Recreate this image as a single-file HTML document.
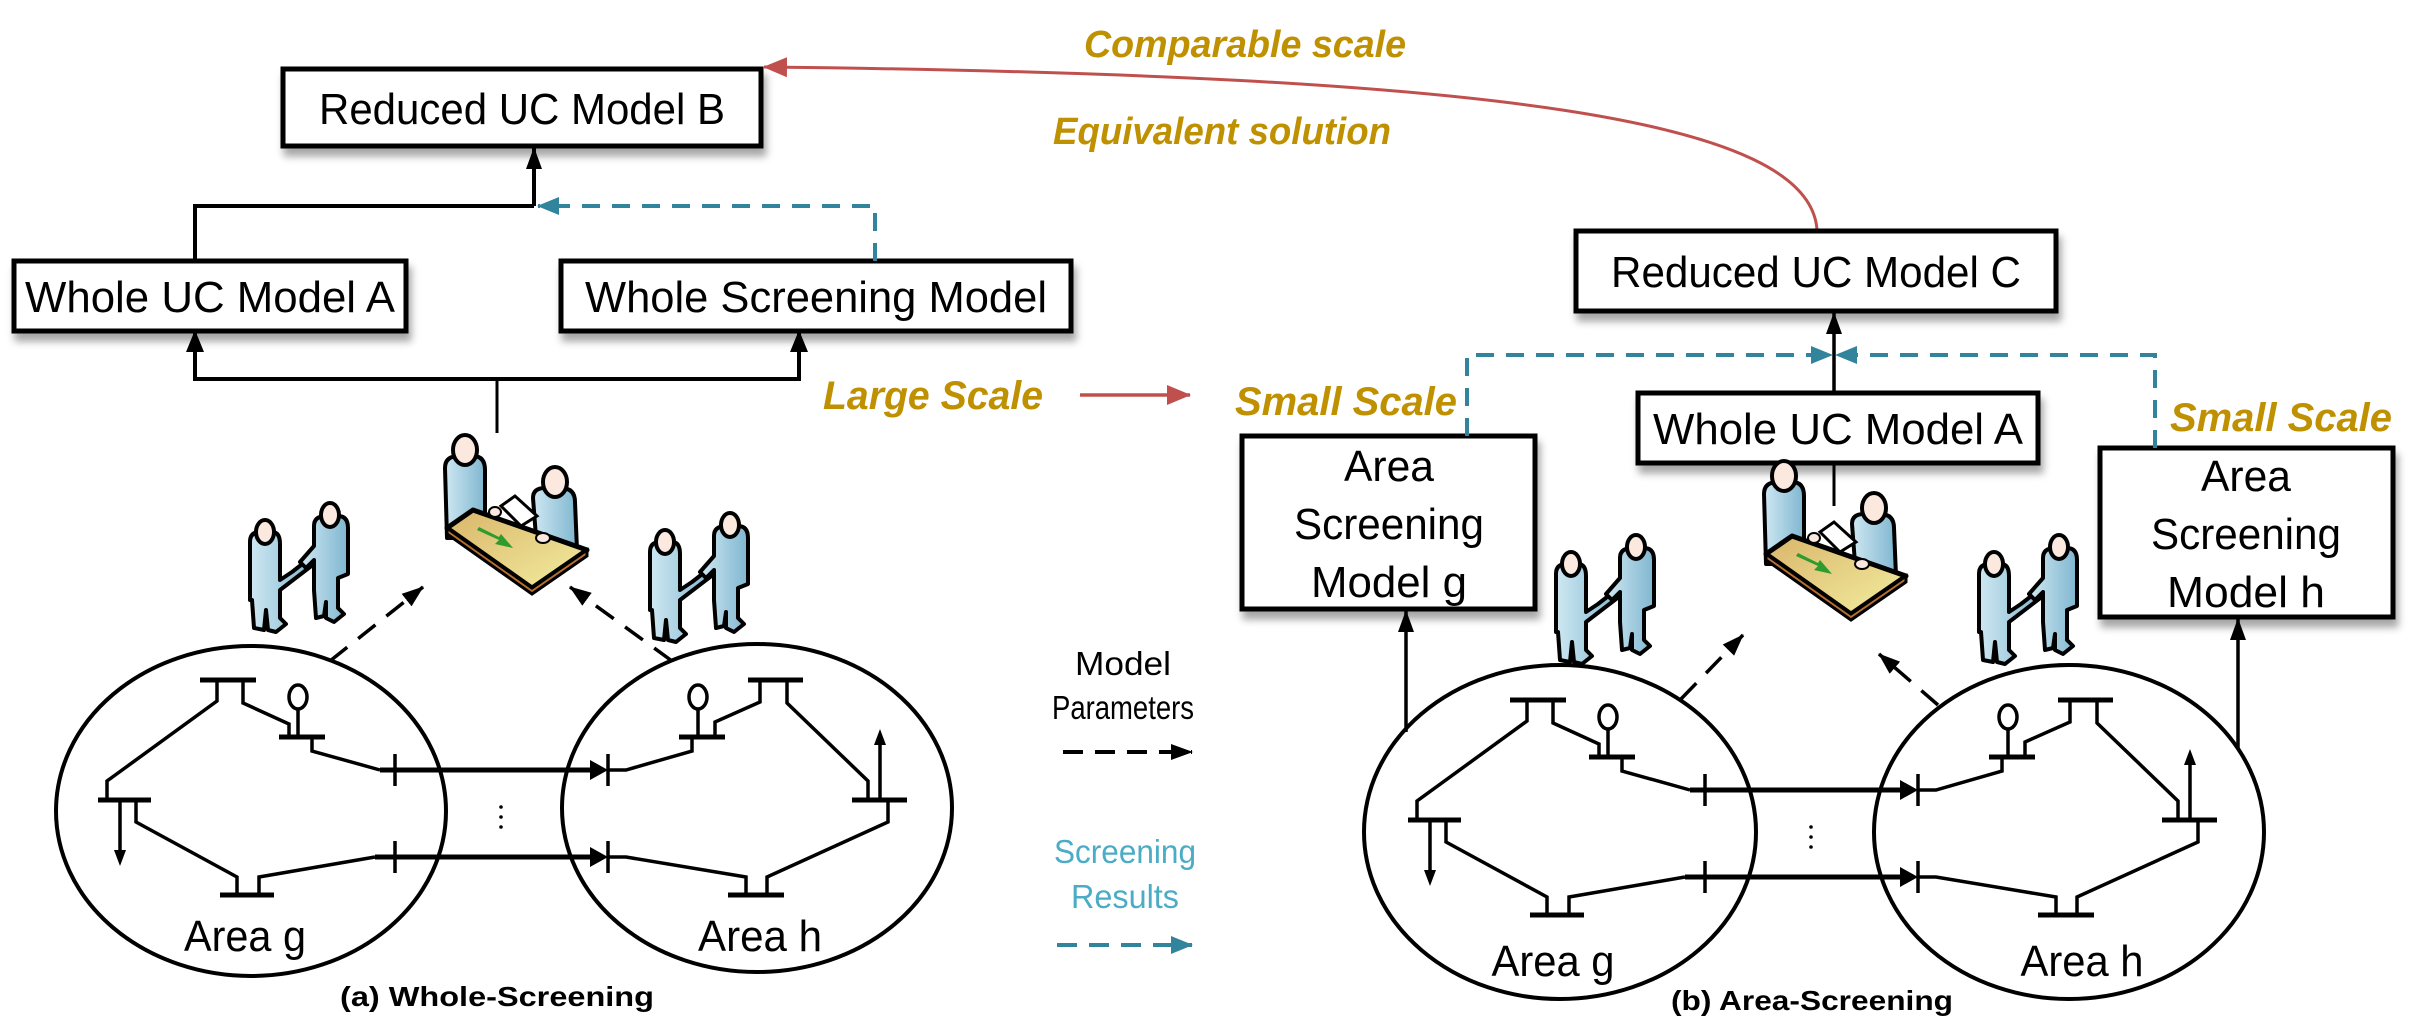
<!DOCTYPE html>
<html><head><meta charset="utf-8"><style>
html,body{margin:0;padding:0;background:#fff;}
svg{display:block;}
text{font-family:"Liberation Sans",sans-serif;}
</style></head><body>
<svg width="2417" height="1028" viewBox="0 0 2417 1028" xmlns="http://www.w3.org/2000/svg">
<defs>
<filter id="sh" x="-10%" y="-10%" width="120%" height="140%"><feDropShadow dx="3" dy="8" stdDeviation="4" flood-color="#000" flood-opacity="0.35"/></filter>
<marker id="abig" markerWidth="22" markerHeight="16" refX="21" refY="8" orient="auto" markerUnits="userSpaceOnUse" viewBox="0 0 22 16"><path d="M0,0 L22,8 L0,16 Z" fill="#000"/></marker>
<marker id="at" markerWidth="22" markerHeight="18" refX="21" refY="9" orient="auto" markerUnits="userSpaceOnUse" viewBox="0 0 22 18"><path d="M0,0 L22,9 L0,18 Z" fill="#31849b"/></marker>
<marker id="ar" markerWidth="24" markerHeight="20" refX="23" refY="10" orient="auto" markerUnits="userSpaceOnUse" viewBox="0 0 24 20"><path d="M0,0 L24,10 L0,20 Z" fill="#c0504d"/></marker>
<linearGradient id="tbl" x1="0" y1="0" x2="1" y2="1"><stop offset="0" stop-color="#d9b56a"/><stop offset="1" stop-color="#f3eea0"/></linearGradient>
<linearGradient id="bl" x1="0" y1="0" x2="1" y2="0"><stop offset="0" stop-color="#cfe8f2"/><stop offset="1" stop-color="#7fb6d0"/></linearGradient>
<g id="pair">
  <path d="M10,52 Q10,42 20,42 L32,42 Q40,42 40,54 L40,90 L52,82 L70,68 L74,74 L40,100 L40,128 L46,134 L36,142 L28,140 L26,120 L24,140 L14,138 L12,110 L10,110 Z" fill="url(#bl)" stroke="#000" stroke-width="4" stroke-linejoin="round"/>
  <ellipse cx="25" cy="42" rx="9" ry="12" fill="#fbe9df" stroke="#000" stroke-width="4"/>
  <path d="M74,36 Q74,26 86,26 L98,26 Q108,26 108,38 L108,84 L98,88 L98,118 L104,124 L94,132 L86,128 L86,112 L84,126 L76,128 L74,100 L74,70 L66,78 L60,72 L74,56 Z" fill="url(#bl)" stroke="#000" stroke-width="4" stroke-linejoin="round"/>
  <ellipse cx="90" cy="25" rx="9" ry="12" fill="#fbe9df" stroke="#000" stroke-width="4"/>
</g>
<g id="meet">
  <path d="M8,30 Q8,18 22,18 L36,18 Q48,18 48,32 L48,100 L10,100 Z" fill="url(#bl)" stroke="#000" stroke-width="4" stroke-linejoin="round"/>
  <ellipse cx="28" cy="12" rx="12" ry="15" fill="#fbe9df" stroke="#000" stroke-width="4"/>
  <path d="M96,60 Q96,50 108,50 L124,50 Q138,50 138,64 L140,112 L100,112 Z" fill="url(#bl)" stroke="#000" stroke-width="4" stroke-linejoin="round"/>
  <ellipse cx="118" cy="44" rx="12" ry="15" fill="#fbe9df" stroke="#000" stroke-width="4"/>
  <path d="M10,90 L36,72 L150,112 L95,150 Z" fill="url(#tbl)" stroke="#000" stroke-width="5" stroke-linejoin="round"/>
  <path d="M10,90 L10,96 L95,156 L150,118 L150,112 L95,150 Z" fill="#b9702f" stroke="#000" stroke-width="3"/>
  <path d="M64,68 L78,58 L100,78 L84,88 Z" fill="#fff" stroke="#000" stroke-width="3"/>
  <path d="M40,92 L62,102 L58,106 L76,110 L64,96 L62,99 L42,89 Z" fill="#2e9b2e"/>
  <ellipse cx="58" cy="74" rx="6" ry="5" fill="#fbe9df" stroke="#000" stroke-width="2"/>
  <ellipse cx="106" cy="100" rx="7" ry="5" fill="#fbe9df" stroke="#000" stroke-width="2"/>
</g>
<g id="net" fill="none" stroke="#000" stroke-width="3.5">
  <line x1="200" y1="680" x2="256" y2="680" stroke-width="5"/>
  <polyline points="217,680 217,701 107,781 107,800"/>
  <polyline points="243,680 243,703 289,724 289,737"/>
  <line x1="279" y1="737" x2="325" y2="737" stroke-width="5"/>
  <ellipse cx="298" cy="697" rx="9" ry="12"/>
  <line x1="298" y1="709" x2="298" y2="737"/>
  <polyline points="312,737 312,751 380,770"/>
  <line x1="380" y1="770" x2="596" y2="770" stroke-width="5"/>
  <path d="M590,760 L608,770 L590,780 Z" fill="#000" stroke="none"/>
  <line x1="395" y1="754" x2="395" y2="786"/>
  <line x1="608" y1="754" x2="608" y2="786"/>
  <line x1="98" y1="800" x2="151" y2="800" stroke-width="5"/>
  <line x1="120" y1="800" x2="120" y2="855"/>
  <path d="M114,850 L120,866 L126,850 Z" fill="#000" stroke="none"/>
  <polyline points="136,800 136,822 237,877 237,895"/>
  <line x1="220" y1="895" x2="274" y2="895" stroke-width="5"/>
  <polyline points="259,895 259,877 375,857"/>
  <line x1="375" y1="857" x2="596" y2="857" stroke-width="5"/>
  <path d="M590,847 L608,857 L590,867 Z" fill="#000" stroke="none"/>
  <line x1="395" y1="841" x2="395" y2="873"/>
  <line x1="608" y1="841" x2="608" y2="873"/>
  <polyline points="608,770 626,770 692,751 692,737"/>
  <line x1="679" y1="737" x2="725" y2="737" stroke-width="5"/>
  <ellipse cx="698" cy="697" rx="9" ry="12"/>
  <line x1="698" y1="709" x2="698" y2="737"/>
  <polyline points="715,737 715,722 760,702 760,680"/>
  <line x1="748" y1="680" x2="803" y2="680" stroke-width="5"/>
  <polyline points="787,680 787,703 868,781 868,800"/>
  <line x1="852" y1="800" x2="907" y2="800" stroke-width="5"/>
  <line x1="880" y1="800" x2="880" y2="740"/>
  <path d="M874,745 L880,729 L886,745 Z" fill="#000" stroke="none"/>
  <polyline points="888,800 888,822 767,877 767,895"/>
  <line x1="728" y1="895" x2="784" y2="895" stroke-width="5"/>
  <polyline points="746,895 746,877 626,857 608,857"/>
  <circle cx="501" cy="807" r="1.8" fill="#000" stroke="none"/>
  <circle cx="501" cy="817" r="1.8" fill="#000" stroke="none"/>
  <circle cx="501" cy="827" r="1.8" fill="#000" stroke="none"/>
</g>
</defs>

<g filter="url(#sh)">
<rect x="283" y="69" width="478" height="77" fill="#fff" stroke="#000" stroke-width="5"/>
<rect x="14" y="261" width="392" height="70" fill="#fff" stroke="#000" stroke-width="5"/>
<rect x="561" y="261" width="510" height="70" fill="#fff" stroke="#000" stroke-width="5"/>
</g>
<text x="522" y="124" font-size="44" text-anchor="middle" textLength="406" lengthAdjust="spacingAndGlyphs">Reduced UC Model B</text>
<text x="210" y="312" font-size="44" text-anchor="middle" textLength="370" lengthAdjust="spacingAndGlyphs">Whole UC Model A</text>
<text x="816" y="312" font-size="44" text-anchor="middle" textLength="462" lengthAdjust="spacingAndGlyphs">Whole Screening Model</text>

<polyline points="195,261 195,206 534,206" fill="none" stroke="#000" stroke-width="4"/>
<line x1="534" y1="206" x2="534" y2="148" stroke="#000" stroke-width="4" marker-end="url(#abig)"/>
<polyline points="875,261 875,206 538,206" fill="none" stroke="#31849b" stroke-width="4" stroke-dasharray="18,12" marker-end="url(#at)"/>
<polyline points="195,331 195,379 799,379 799,333" fill="none" stroke="#000" stroke-width="4"/>
<path d="M186,352 L195,330 L204,352 Z" fill="#000"/>
<path d="M790,352 L799,330 L808,352 Z" fill="#000"/>
<line x1="497" y1="379" x2="497" y2="433" stroke="#000" stroke-width="3"/>

<use href="#meet" x="437" y="438"/>
<use href="#pair" x="240" y="490"/>
<use href="#pair" x="640" y="500"/>

<ellipse cx="251" cy="811" rx="195" ry="165" fill="none" stroke="#000" stroke-width="4"/>
<ellipse cx="757" cy="808" rx="195" ry="164" fill="none" stroke="#000" stroke-width="4"/>
<use href="#net"/>
<line x1="330" y1="661" x2="423" y2="587" stroke="#000" stroke-width="3.5" stroke-dasharray="22,14" marker-end="url(#abig)"/>
<line x1="672" y1="661" x2="570" y2="587" stroke="#000" stroke-width="3.5" stroke-dasharray="22,14" marker-end="url(#abig)"/>
<text x="245" y="951" font-size="44" text-anchor="middle" textLength="122" lengthAdjust="spacingAndGlyphs">Area g</text>
<text x="760" y="951" font-size="44" text-anchor="middle" textLength="124" lengthAdjust="spacingAndGlyphs">Area h</text>
<text x="497" y="1006" font-size="28" font-weight="bold" text-anchor="middle" textLength="314" lengthAdjust="spacingAndGlyphs">(a) Whole-Screening</text>

<text x="1123" y="675" font-size="33" text-anchor="middle" textLength="96" lengthAdjust="spacingAndGlyphs">Model</text>
<text x="1123" y="719" font-size="33" text-anchor="middle" textLength="142" lengthAdjust="spacingAndGlyphs">Parameters</text>
<line x1="1063" y1="752" x2="1192" y2="752" stroke="#000" stroke-width="4" stroke-dasharray="20,12" marker-end="url(#abig)"/>
<text x="1125" y="863" font-size="33" fill="#4bacc6" text-anchor="middle" textLength="142" lengthAdjust="spacingAndGlyphs">Screening</text>
<text x="1125" y="908" font-size="33" fill="#4bacc6" text-anchor="middle" textLength="108" lengthAdjust="spacingAndGlyphs">Results</text>
<line x1="1057" y1="945" x2="1192" y2="945" stroke="#31849b" stroke-width="4" stroke-dasharray="20,12" marker-end="url(#at)"/>

<text x="1245" y="57" font-size="38" font-weight="bold" font-style="italic" fill="#bf9000" text-anchor="middle" textLength="322" lengthAdjust="spacingAndGlyphs">Comparable scale</text>
<text x="1222" y="144" font-size="38" font-weight="bold" font-style="italic" fill="#bf9000" text-anchor="middle" textLength="338" lengthAdjust="spacingAndGlyphs">Equivalent  solution</text>
<path d="M1817,230 C1810,120 1500,75 764,67" fill="none" stroke="#c0504d" stroke-width="3" marker-end="url(#ar)"/>
<text x="933" y="409" font-size="40" font-weight="bold" font-style="italic" fill="#bf9000" text-anchor="middle" textLength="220" lengthAdjust="spacingAndGlyphs">Large Scale</text>
<line x1="1080" y1="395" x2="1190" y2="395" stroke="#c0504d" stroke-width="3.5" marker-end="url(#ar)"/>

<g filter="url(#sh)">
<rect x="1576" y="231" width="480" height="80" fill="#fff" stroke="#000" stroke-width="5"/>
<rect x="1638" y="393" width="400" height="70" fill="#fff" stroke="#000" stroke-width="5"/>
<rect x="1242" y="436" width="293" height="173" fill="#fff" stroke="#000" stroke-width="5"/>
<rect x="2100" y="448" width="293" height="169" fill="#fff" stroke="#000" stroke-width="5"/>
</g>
<text x="1816" y="287" font-size="44" text-anchor="middle" textLength="410" lengthAdjust="spacingAndGlyphs">Reduced UC Model C</text>
<text x="1838" y="444" font-size="44" text-anchor="middle" textLength="370" lengthAdjust="spacingAndGlyphs">Whole UC Model A</text>
<text x="1389" y="481" font-size="44" text-anchor="middle" textLength="90" lengthAdjust="spacingAndGlyphs">Area</text>
<text x="1389" y="539" font-size="44" text-anchor="middle" textLength="190" lengthAdjust="spacingAndGlyphs">Screening</text>
<text x="1389" y="597" font-size="44" text-anchor="middle" textLength="156" lengthAdjust="spacingAndGlyphs">Model g</text>
<text x="2246" y="491" font-size="44" text-anchor="middle" textLength="90" lengthAdjust="spacingAndGlyphs">Area</text>
<text x="2246" y="549" font-size="44" text-anchor="middle" textLength="190" lengthAdjust="spacingAndGlyphs">Screening</text>
<text x="2246" y="607" font-size="44" text-anchor="middle" textLength="158" lengthAdjust="spacingAndGlyphs">Model h</text>

<line x1="1834" y1="393" x2="1834" y2="313" stroke="#000" stroke-width="3.5" marker-end="url(#abig)"/>
<polyline points="1467,436 1467,355 1832,355" fill="none" stroke="#31849b" stroke-width="4" stroke-dasharray="18,12" marker-end="url(#at)"/>
<polyline points="2155,448 2155,355 1836,355" fill="none" stroke="#31849b" stroke-width="4" stroke-dasharray="18,12" marker-end="url(#at)"/>
<line x1="1834" y1="463" x2="1834" y2="506" stroke="#000" stroke-width="3"/>
<text x="1346" y="415" font-size="40" font-weight="bold" font-style="italic" fill="#bf9000" text-anchor="middle" textLength="222" lengthAdjust="spacingAndGlyphs">Small Scale</text>
<text x="2281" y="431" font-size="40" font-weight="bold" font-style="italic" fill="#bf9000" text-anchor="middle" textLength="222" lengthAdjust="spacingAndGlyphs">Small Scale</text>

<line x1="1406" y1="732" x2="1406" y2="611" stroke="#000" stroke-width="3.5" marker-end="url(#abig)"/>
<line x1="2238" y1="748" x2="2238" y2="619" stroke="#000" stroke-width="3.5" marker-end="url(#abig)"/>

<use href="#meet" x="1756" y="464"/>
<use href="#pair" x="1546" y="522"/>
<use href="#pair" x="1969" y="522"/>

<ellipse cx="1560" cy="832" rx="196" ry="167" fill="none" stroke="#000" stroke-width="4"/>
<ellipse cx="2069" cy="832" rx="195" ry="167" fill="none" stroke="#000" stroke-width="4"/>
<use href="#net" x="1310" y="20"/>
<line x1="1681" y1="699" x2="1743" y2="635" stroke="#000" stroke-width="3.5" stroke-dasharray="22,14" marker-end="url(#abig)"/>
<line x1="1938" y1="705" x2="1879" y2="654" stroke="#000" stroke-width="3.5" stroke-dasharray="22,14" marker-end="url(#abig)"/>
<text x="1553" y="976" font-size="44" text-anchor="middle" textLength="123" lengthAdjust="spacingAndGlyphs">Area g</text>
<text x="2082" y="976" font-size="44" text-anchor="middle" textLength="123" lengthAdjust="spacingAndGlyphs">Area h</text>
<text x="1812" y="1010" font-size="28" font-weight="bold" text-anchor="middle" textLength="282" lengthAdjust="spacingAndGlyphs">(b) Area-Screening</text>
</svg>
</body></html>
